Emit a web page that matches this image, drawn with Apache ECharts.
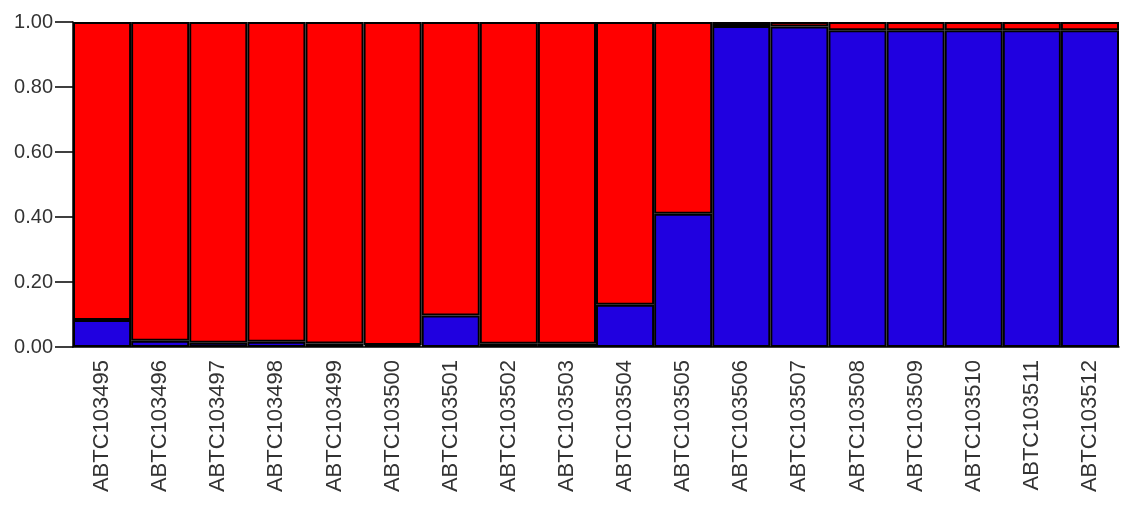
<!DOCTYPE html>
<html>
<head>
<meta charset="utf-8">
<script src="https://cdn.jsdelivr.net/npm/echarts@6/dist/echarts.min.js"></script>
<style>
html,body{margin:0;padding:0;background:#fff;}
#chart{width:1121px;height:505px;}
</style>
</head>
<body>
<div id="chart"></div>
<script>
const categories = ['ABTC103495','ABTC103496','ABTC103497','ABTC103498','ABTC103499','ABTC103500','ABTC103501','ABTC103502','ABTC103503','ABTC103504','ABTC103505','ABTC103506','ABTC103507','ABTC103508','ABTC103509','ABTC103510','ABTC103511','ABTC103512'];
const blueValues = [0.083, 0.019, 0.013, 0.016, 0.011, 0.006, 0.097, 0.010, 0.010, 0.130, 0.410, 0.988, 0.986, 0.975, 0.975, 0.975, 0.975, 0.975];
const redValues  = [0.917, 0.981, 0.987, 0.984, 0.989, 0.994, 0.903, 0.990, 0.990, 0.870, 0.590, 0.012, 0.014, 0.025, 0.025, 0.025, 0.025, 0.025];
const yTicks = [0, 0.2, 0.4, 0.6, 0.8, 1.0];

const chart = echarts.init(document.getElementById('chart'));
chart.setOption({
  animation: false,
  backgroundColor: '#ffffff',
  grid: {left: 73, right: 2, top: 22, bottom: 158},
  xAxis: {
    type: 'category',
    data: categories,
    axisLine: {lineStyle: {color: '#000', width: 1.5}},
    axisTick: {show: false},
    axisLabel: {rotate: 90, margin: 13, fontSize: 22, color: '#333', fontFamily: 'Liberation Sans, Arial, sans-serif', interval: 0}
  },
  yAxis: {
    type: 'value',
    min: 0, max: 1, interval: 0.2,
    splitLine: {show: false},
    axisLine: {show: true, lineStyle: {color: '#000', width: 1.5}},
    axisTick: {show: true, length: 18, lineStyle: {color: '#000', width: 1.5}},
    axisLabel: {margin: 20, fontSize: 20, color: '#333', fontFamily: 'Liberation Sans, Arial, sans-serif',
      formatter: v => v.toFixed(2)}
  },
  series: [
    {type: 'bar', stack: 'q', data: blueValues, barCategoryGap: '0%',
      itemStyle: {color: '#2000e0', borderColor: '#000', borderWidth: 2}},
    {type: 'bar', stack: 'q', data: redValues, barCategoryGap: '0%',
      itemStyle: {color: '#ff0000', borderColor: '#000', borderWidth: 2}}
  ]
});
</script>
</body>
</html>
